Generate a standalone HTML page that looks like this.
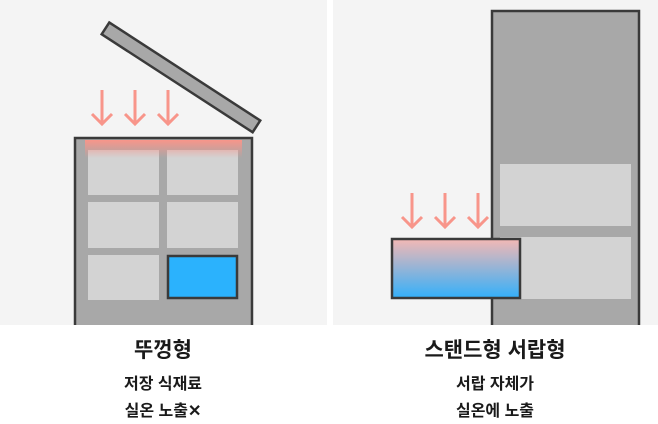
<!DOCTYPE html>
<html><head><meta charset="utf-8"><style>
body{margin:0;width:658px;height:424px;background:#fff;position:relative;overflow:hidden;font-family:"Liberation Sans","Noto Sans CJK KR",sans-serif}
.a{position:absolute}
.t{position:absolute;width:320px;text-align:center;font-weight:bold;color:#1a1a1a}
</style></head><body>
<div class="a" style="left:0;top:0;width:327px;height:325px;background:#f4f4f4"></div>
<div class="a" style="left:333px;top:0;width:325px;height:325px;background:#f4f4f4"></div>
<svg class="a" style="left:0;top:0" width="658" height="325">
<defs>
<linearGradient id="pk" x1="0" y1="0" x2="0" y2="1"><stop offset="0" stop-color="#f8958a"/><stop offset="1" stop-color="#f8958a" stop-opacity="0"/></linearGradient>
<linearGradient id="dr" x1="0" y1="0" x2="0" y2="1"><stop offset="0" stop-color="#f4b8b4"/><stop offset="1" stop-color="#33b0fa"/></linearGradient>
</defs>
<g transform="translate(108,30) rotate(33)"><rect x="-3" y="-7" width="180" height="14" fill="#a8a8a8" stroke="#3a3a3a" stroke-width="2.5"/></g>
<rect x="75" y="138" width="177" height="200" fill="#a8a8a8" stroke="#3a3a3a" stroke-width="2.5"/>
<g fill="#d3d3d3"><rect x="88" y="150" width="71" height="45"/><rect x="167" y="150" width="71" height="45"/><rect x="88" y="202" width="71" height="46"/><rect x="167" y="202" width="71" height="46"/><rect x="88" y="255" width="71" height="45"/></g>
<rect x="168" y="256" width="69" height="42" fill="#2bb2fd" stroke="#3a3a3a" stroke-width="2.5"/>
<rect x="85" y="140" width="157" height="18" fill="url(#pk)"/>
<g stroke="#f8958a" stroke-width="3" fill="none">
<path d="M102 90V124M92 114L102 124L112 114"/><path d="M135 90V124M125 114L135 124L145 114"/><path d="M168 90V124M158 114L168 124L178 114"/>
<path d="M412 193V227M402 217L412 227L422 217"/><path d="M445 193V227M435 217L445 227L455 217"/><path d="M478 193V227M468 217L478 227L488 217"/>
</g>
<rect x="492" y="11" width="147" height="330" fill="#a8a8a8" stroke="#3a3a3a" stroke-width="2.5"/>
<g fill="#d3d3d3"><rect x="500" y="164" width="131" height="62"/><rect x="500" y="237" width="131" height="62"/></g>
<rect x="392" y="239" width="128" height="59" fill="url(#dr)" stroke="#3a3a3a" stroke-width="2.5"/>
</svg>
<div class="t" style="left:3px;top:334px;font-size:21px">뚜껑형</div>
<div class="t" style="left:3px;top:370px;font-size:16px">저장 식재료</div>
<div class="t" style="left:3px;top:397px;font-size:16px">실온 노출✕</div>
<div class="t" style="left:335px;top:334px;font-size:21px">스탠드형 서랍형</div>
<div class="t" style="left:335px;top:370px;font-size:16px">서랍 자체가</div>
<div class="t" style="left:335px;top:397px;font-size:16px">실온에 노출</div>
</body></html>
